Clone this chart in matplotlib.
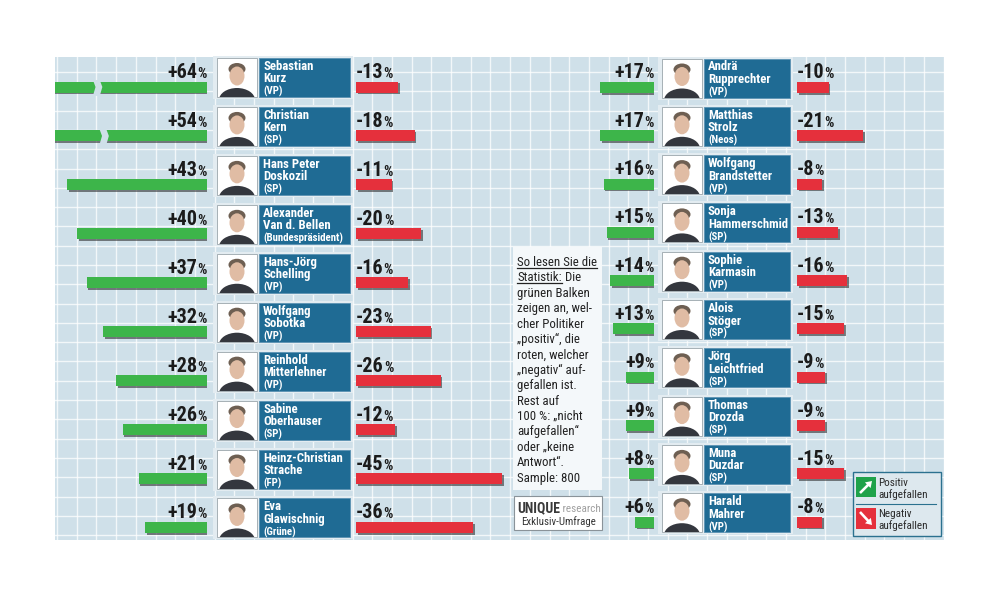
import matplotlib
matplotlib.use("Agg")
import matplotlib.pyplot as plt
import matplotlib.patches as mp
import matplotlib.patheffects as pe
from matplotlib import font_manager as fm
import numpy as np

W, H = 996, 598

# --- data ---
left_first = ["Sebastian", "Christian", "Hans Peter", "Alexander", "Hans-Jörg",
              "Wolfgang", "Reinhold", "Sabine", "Heinz-Christian", "Eva"]
left_last = ["Kurz", "Kern", "Doskozil", "Van d. Bellen", "Schelling",
             "Sobotka", "Mitterlehner", "Oberhauser", "Strache", "Glawischnig"]
left_party = ["(VP)", "(SP)", "(SP)", "(Bundespräsident)", "(VP)",
              "(VP)", "(VP)", "(SP)", "(FP)", "(Grüne)"]
left_pos = [64, 54, 43, 40, 37, 32, 28, 26, 21, 19]
left_neg = [13, 18, 11, 20, 16, 23, 26, 12, 45, 36]

right_first = ["Andrä", "Matthias", "Wolfgang", "Sonja", "Sophie",
               "Alois", "Jörg", "Thomas", "Muna", "Harald"]
right_last = ["Rupprechter", "Strolz", "Brandstetter", "Hammerschmid", "Karmasin",
              "Stöger", "Leichtfried", "Drozda", "Duzdar", "Mahrer"]
right_party = ["(VP)", "(Neos)", "(VP)", "(SP)", "(VP)",
               "(SP)", "(SP)", "(SP)", "(SP)", "(VP)"]
right_pos = [17, 17, 16, 15, 14, 13, 9, 9, 8, 6]
right_neg = [10, 21, 8, 13, 16, 15, 9, 9, 15, 8]

info_lines = ["So lesen Sie die", "Statistik:", "grünen Balken", "zeigen an, wel-",
              "cher Politiker", "„positiv“, die", "roten, welcher", "„negativ“ auf-",
              "gefallen ist.", "Rest auf", "100 %: „nicht", "aufgefallen“",
              "oder „keine", "Antwort“.", "Sample: 800"]

# --- fonts: a condensed face if there is one ---
have = {f.name for f in fm.fontManager.ttflist}
if "Roboto Condensed" in have:
    NARROW, k = "Roboto Condensed", 1.0
elif "Liberation Sans Narrow" in have:
    NARROW, k = "Liberation Sans Narrow", 1.0
else:
    NARROW, k = "Liberation Sans", 0.82
FAM = [NARROW, "DejaVu Sans"]
NUMSIZE = 14.5 if k == 1.0 else 13.2

GREEN = "#3db54a"
RED = "#e5303c"
BLUE = "#1f6b94"
BG = "#cfe0e9"
INK = "#1b1b1b"

fig = plt.figure(figsize=(W / 100, H / 100), dpi=100)
bg = fig.add_axes([0, 0, 1, 1])
bg.set_xlim(0, W)
bg.set_ylim(H, 0)
bg.axis("off")

# background panel with grid
bg.add_patch(mp.Rectangle((55, 57), 889, 483, fc=BG, ec="none", zorder=0))
for gx in np.arange(57, 944, 19.7):
    bg.plot([gx, gx], [57, 540], color="white", lw=1.0, alpha=0.75, zorder=0.5)
for gy in np.arange(72, 540, 19.3):
    bg.plot([55, 944], [gy, gy], color="white", lw=1.0, alpha=0.75, zorder=0.5)


def fig_rect(x0, x1, y0, y1):
    return [x0 / W, 1 - y1 / H, (x1 - x0) / W, (y1 - y0) / H]


def txt(ax, *a, **kw):
    kw.setdefault("family", FAM)
    return ax.text(*a, **kw)


def photo(x, y):
    r = mp.Rectangle((x, y), 40, 39, fc="white", ec="#9aa5ab", lw=0.6, zorder=3)
    bg.add_patch(r)
    parts = [mp.Ellipse((x + 20, y + 42), 36, 24, fc="#34373e", zorder=4),
             mp.Ellipse((x + 20, y + 11), 17, 12, fc="#6e5f52", zorder=4.5),
             mp.Ellipse((x + 20, y + 18), 15, 19, fc="#e0bca4", zorder=5)]
    for p in parts:
        bg.add_patch(p)
        p.set_clip_path(r)


def panel(c0, sp, gx, rx, scale, px, bx, first, last, party, pos, neg, breaks):
    n = len(pos)
    for i in range(n):
        c = c0 + i * sp
        top = c - 29
        bg.add_patch(mp.Rectangle((px - 4, top - 2), bx[1] - px + 7, 43,
                                  fc="#e3ecf1", ec="none", zorder=2))
        photo(px, top)
        bg.add_patch(mp.Rectangle((bx[0], top), bx[1] - bx[0], 39, fc=BLUE,
                                  ec="#5b93b3", lw=0.6, zorder=3))
        txt(bg, bx[0] + 4, top + 12, first[i], color="white", fontsize=9.2 * k,
            fontweight="bold", va="baseline", zorder=6)
        txt(bg, bx[0] + 4, top + 24.5, last[i], color="white", fontsize=9.2 * k,
            fontweight="bold", va="baseline", zorder=6)
        txt(bg, bx[0] + 4, top + 37, party[i], color="white", fontsize=7.8 * k,
            fontweight="bold", va="baseline", zorder=6)

    y = np.arange(n)
    bh = 11 / sp
    ly = y - 9 / sp
    lab = dict(fontweight="bold", family=FAM, color=INK,
               va="baseline", annotation_clip=False)
    for (x0, x1), vals, color, is_neg in [(gx, pos, GREEN, False), (rx, neg, RED, True)]:
        ax = fig.add_axes(fig_rect(x0, x1, c0 - 0.6 * sp, c0 + 9.4 * sp))
        ax.set_ylim(9.4, -0.6)
        span = (x1 - x0) / scale
        ax.set_xlim((0, span) if is_neg else (span, 0))
        ax.axis("off")
        rects = ax.barh(y, vals, height=bh, color=color, zorder=2)
        for r in rects:
            r.set_path_effects([pe.SimplePatchShadow(offset=(1.2, -1.2),
                                                     shadow_rgbFace="#202020", alpha=0.55),
                                pe.Normal()])
        for i, v in enumerate(vals):
            if is_neg:
                num = ax.annotate(f"-{v}", xy=(0, ly[i]), ha="left",
                                  fontsize=NUMSIZE, **lab)
                ax.annotate("%", xy=(1, ly[i]), xycoords=(num, "data"), ha="left",
                            fontsize=10.5 * k, **lab)
            else:
                pct = ax.annotate("%", xy=(0, ly[i]), ha="right", fontsize=10.5 * k, **lab)
                ax.annotate(f"+{v}", xy=(0, ly[i]), xycoords=(pct, "data"), ha="right",
                            fontsize=NUMSIZE, **lab)
        if not is_neg:
            for i, b in breaks.items():
                t, m, bt = i - bh / 2 - 0.03, i, i + bh / 2 + 0.07
                ax.add_patch(mp.Polygon([(b + 1.1, t), (b + 0.3, m), (b + 1.1, bt),
                                         (b - 1.0, bt), (b - 1.8, m), (b - 1.0, t)],
                                        closed=True, fc=BG, ec="none", zorder=3))


panel(87, 48.94, (55, 207), (356, 505), 3.25, 217, (259, 350),
      left_first, left_last, left_party, left_pos, left_neg, {0: 34.0, 1: 32.0})
panel(87.5, 48.3, (560, 654), (797, 944), 3.15, 662, (704, 790),
      right_first, right_last, right_party, right_pos, right_neg, {})

# info box
bg.add_patch(mp.Rectangle((513, 247), 89, 243, fc="#f4f8fa", ec="none", zorder=2))
info_texts = []
for i, line in enumerate(info_lines):
    t = txt(bg, 517, 266 + i * 15.4, line, fontsize=9.3 * k,
            color="#222222", va="baseline", zorder=6)
    info_texts.append(t)
bg.annotate(" Die", xy=(1, 266 + 15.4), xycoords=(info_texts[1], "data"),
            fontsize=9.3 * k, family=FAM, color="#222222", va="baseline", zorder=6)

# research box
bg.add_patch(mp.Rectangle((514, 496), 88, 34, fc="white", ec="#8a9399", lw=0.8, zorder=2))
uq = txt(bg, 517, 512, "UNIQUE", fontsize=10 * k, fontweight="bold",
         color="#3a3a3a", va="baseline", zorder=6)
bg.annotate(" research", xy=(1, 512), xycoords=(uq, "data"), fontsize=8 * k,
            family=FAM, color="#a0a0a0", va="baseline", zorder=6)
txt(bg, 558, 525, "Exklusiv-Umfrage", fontsize=7.8 * k, color="#333333",
    ha="center", va="baseline", zorder=6)

# legend
bg.add_patch(mp.Rectangle((853, 472), 88, 64, fc="#dde8ee", ec="#2b718f", lw=1, zorder=2))
bg.plot([856, 936], [504, 504], color="#2b718f", lw=0.8, zorder=3)
bg.add_patch(mp.Rectangle((856, 477), 20, 20, fc="#1fa24a", ec="none", zorder=3))
bg.add_patch(mp.Rectangle((856, 508), 20, 21, fc=RED, ec="none", zorder=3))
bg.add_patch(mp.FancyArrow(860, 493, 12, -12, width=2.6, head_width=8, head_length=6,
                           length_includes_head=True, fc="white", ec="none", zorder=4))
bg.add_patch(mp.FancyArrow(860, 512, 12, 13, width=2.6, head_width=8, head_length=6,
                           length_includes_head=True, fc="white", ec="none", zorder=4))
for yy, s in [(486.5, "Positiv"), (498.5, "aufgefallen"), (517, "Negativ"), (529, "aufgefallen")]:
    txt(bg, 878, yy, s, fontsize=8 * k, color="#2a2a2a", va="baseline", zorder=6)

# underlines in the info box
fig.canvas.draw()
rend = fig.canvas.get_renderer()
inv = bg.transData.inverted()
for t, yy in [(info_texts[0], 266), (info_texts[1], 266 + 15.4)]:
    bb = t.get_window_extent(rend)
    xa = inv.transform((bb.x0, 0))[0]
    xb = inv.transform((bb.x1, 0))[0]
    bg.plot([xa, xb], [yy + 2, yy + 2], color="#222222", lw=0.9, zorder=6)

fig.savefig("out.png", dpi=100)
